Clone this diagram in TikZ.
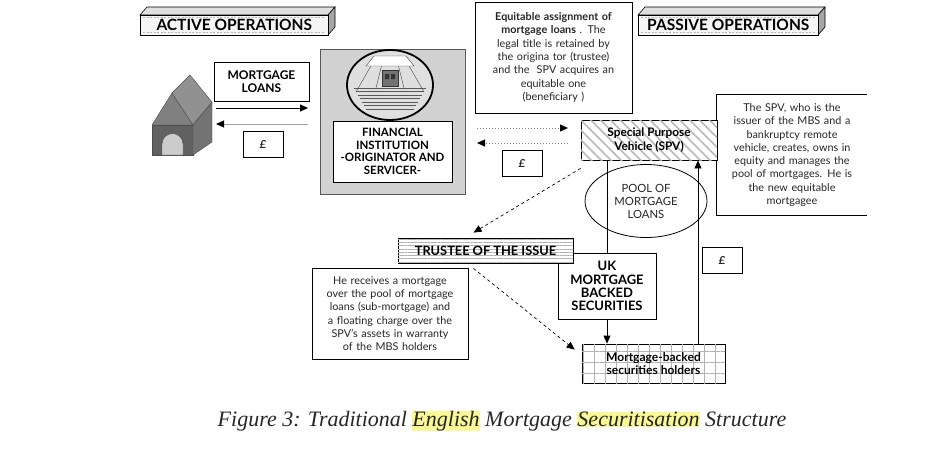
\documentclass[tikz,border=0pt]{standalone}
\usepackage{fontspec}
\setmainfont{Lato}
\newfontfamily\capfont{Liberation Serif}
\usetikzlibrary{shapes.geometric, calc, arrows.meta, patterns.meta}
\definecolor{hilite}{RGB}{250,248,150}
\newcommand\hlword[1]{{\setlength\fboxsep{0pt}\colorbox{hilite}{#1}}}

\begin{document}
\begin{tikzpicture}[x=1pt,y=-1pt,
  every node/.style={inner sep=1pt,align=center,text=black!85,font=\fontsize{10.8}{13.3}\selectfont},
  box/.style={draw,fill=white,line width=.8pt},
  caps/.style={font=\fontsize{12}{13.3}\selectfont\bfseries,text=black},
  tip/.style={-{Triangle[length=8pt,width=7pt,color=black]}},
  dashline/.style={dashed,line width=.7pt},
  dotline/.style={dotted,gray,line width=1pt},
  pound/.style={box,minimum width=40pt,minimum height=26pt,font=\fontsize{11}{13}\selectfont\bfseries\itshape}]
  \useasboundingbox (0,0) rectangle (952,450);
  % operation bars
  \foreach \x/\w/\n/\t in {140/188/act/ACTIVE OPERATIONS, 638/180/pas/PASSIVE OPERATIONS} {
    \filldraw[fill=gray!25,line width=.6pt] (\x,15) -- ++(7,-8) -- ++(\w,0) -- ++(-7,8) -- cycle;
    \filldraw[fill=gray!70,line width=.6pt] (\x+\w,15) -- ++(7,-8) -- ++(0,20) -- ++(-7,8) -- cycle;
    \node[draw,fill=gray!8,line width=.6pt,minimum width=\w pt,minimum height=20pt,anchor=north west,
      font=\fontsize{15.5}{17}\selectfont\bfseries,text=black] (\n) at (\x,15) {\t};
    \draw[gray!55,dash pattern=on 2pt off 1.5pt] (\x+3,17.5) -- ++(\w-6,0) (\x+3,32.5) -- ++(\w-6,0);
  }
  % house
  \filldraw[fill=black!62,draw=black!70] (152,125) rectangle (193,155);
  \filldraw[fill=black!50,draw=black!70] (152,125) -- (172,93) -- (193,125) -- cycle;
  \filldraw[fill=black!43,draw=black!70] (172,93) -- (190,75) -- (212,102) -- (193,125) -- cycle;
  \filldraw[fill=black!55,draw=black!70] (193,125) -- (212,102) -- (212,142) -- (193,155) -- cycle;
  \filldraw[fill=black!20,draw=black!70] (162,155) -- (162,144) arc[start angle=180,end angle=0,radius=10.5pt] -- (183,155) -- cycle;
  \node[box,minimum width=95pt,minimum height=39pt,caps] (loans) at (261.5,81.5) {MORTGAGE\\LOANS};
  \node[pound] (p1) at (263,144) {£};
  \coordinate (h1) at (216,108);
  \coordinate (h2) at (308,108);
  \coordinate (h3) at (308,124);
  \coordinate (h4) at (216,124);
  \draw[tip,line width=1pt] (h1) -- (h2);
  \draw[tip,line width=1pt,gray!75] (h3) -- (h4);
  % financial institution
  \node[draw=gray!70!black,fill=gray!35,line width=.8pt,minimum width=145pt,minimum height=145pt] (fi) at (392.5,121.5) {};
  \node[ellipse,draw,line width=1.8pt,fill=gray!25,minimum width=86pt,minimum height=70pt] (logo) at (390,85) {};
  \foreach \i in {0,...,6}
    \draw[black!65] (354+\i*2,88+\i*3.5) -- (426-\i*2,88+\i*3.5);
  \draw[black!70] (372,64) -- (356,92) (408,64) -- (424,92) (382,64) -- (376,88) (398,64) -- (404,88);
  \filldraw[fill=white,draw=black!75] (374,56) -- (406,56) -- (414,66) -- (366,66) -- cycle;
  \filldraw[fill=black!55,draw=black!80] (382,70) rectangle (398,86);
  \fill[black!80] (385,74) rectangle (389,79) (391,74) rectangle (395,79);
  \node[box,minimum width=119pt,minimum height=61pt,caps,font=\fontsize{11.5}{12.5}\selectfont\bfseries] (fin) at (392.5,151.5)
    {FINANCIAL\\INSTITUTION\\-ORIGINATOR AND\\SERVICER-};
  % assignment
  \node[box,minimum width=157pt,minimum height=111pt,text width=152pt] (eq) at (553.5,57.5)
    {\textbf{Equitable assignment of}\\ \textbf{mortgage loans} . The\\ legal title is retained by\\ the origina tor (trustee)\\
     and the\ \ SPV acquires an\\ equitable one\\ (beneficiary )};
  \coordinate (d1) at (477,128);
  \coordinate (d2) at (568,128);
  \coordinate (d3) at (568,143);
  \coordinate (d4) at (477,143);
  \draw[dotline,tip] (d1) -- (d2);
  \draw[dotline,tip] (d3) -- (d4);
  \node[pound] (p2) at (522,163.5) {£};
  % spv
  \node[minimum width=150pt,minimum height=120pt,text width=146pt] (sd) at (792,155)
    {The SPV, who is the\\ issuer of the MBS and a\\ bankruptcy remote\\ vehicle, creates, owns in\\
     equity and manages the\\ pool of mortgages. He is\\ the new equitable\\ mortgagee};
  \draw[line width=.8pt] (sd.north east) -- (sd.north west) -- (sd.south west) -- (sd.south east);
  \node[draw,fill=white,postaction={pattern={Lines[angle=-45,distance=7pt,line width=1.6pt]},pattern color=gray!55},
    line width=.8pt,minimum width=136pt,minimum height=40pt,caps,font=\fontsize{11.8}{14}\selectfont\bfseries] (spv) at (649,140)
    {Special Purpose\\Vehicle (SPV)};
  \node[ellipse,draw,line width=.8pt,minimum width=122pt,minimum height=73pt,inner sep=0pt,font=\fontsize{11.3}{13}\selectfont] (pool) at (646,201)
    {POOL OF\\MORTGAGE\\LOANS};
  % securities
  \node[box,minimum width=98pt,minimum height=66pt,caps,font=\fontsize{13}{13.3}\selectfont\bfseries] (uk) at (607,286)
    {UK\\MORTGAGE\\BACKED\\SECURITIES};
  \node[draw,fill=white,postaction={pattern={Lines[angle=0,distance=3.3pt,line width=.4pt]},pattern color=gray!60},
    line width=.8pt,minimum width=175pt,minimum height=25pt,caps,font=\fontsize{12.8}{14}\selectfont\bfseries] (tr) at (485.5,250.5)
    {TRUSTEE OF THE ISSUE};
  \node[box,minimum width=156pt,minimum height=91pt,text width=152pt] (td) at (390,313.5)
    {He receives a mortgage\\ over the pool of mortgage\\ loans (sub-mortgage) and\\ a floating charge over the\\
     SPV's assets in warranty\\ of the MBS holders};
  \node[draw,fill=white,postaction={pattern={Hatch[angle=0,distance=11pt,line width=.5pt]},pattern color=gray!60},
    line width=.8pt,minimum width=143pt,minimum height=39pt,caps,font=\fontsize{12}{13.5}\selectfont\bfseries] (mh) at (653.5,363.5)
    {Mortgage-backed\\securities holders};
  \node[pound] (p3) at (722,260) {£};
  \coordinate (up) at (698,300);
  \draw[line width=.8pt] (spv.south -| uk.north) -- (uk.north);
  \draw[tip,line width=.8pt] (mh.north -| up) -- (spv.south -| up);
  \draw[tip,line width=.8pt] (uk.south) -- (mh.north -| uk.south);
  \draw[dashline,tip] ([yshift=-8pt]spv.south west) -- ([xshift=-12pt,yshift=5pt]tr.north);
  \draw[dashline,tip] ([xshift=-12pt,yshift=-5pt]tr.south) -- ([xshift=-7pt,yshift=-6pt]mh.north west);
  % caption
  \node[font=\capfont\itshape\fontsize{22}{25}\selectfont,text=black!85] (caption) at (502,421)
    {Figure 3: Traditional \hlword{English} Mortgage \hlword{Securitisation} Structure};
\end{tikzpicture}
\end{document}
